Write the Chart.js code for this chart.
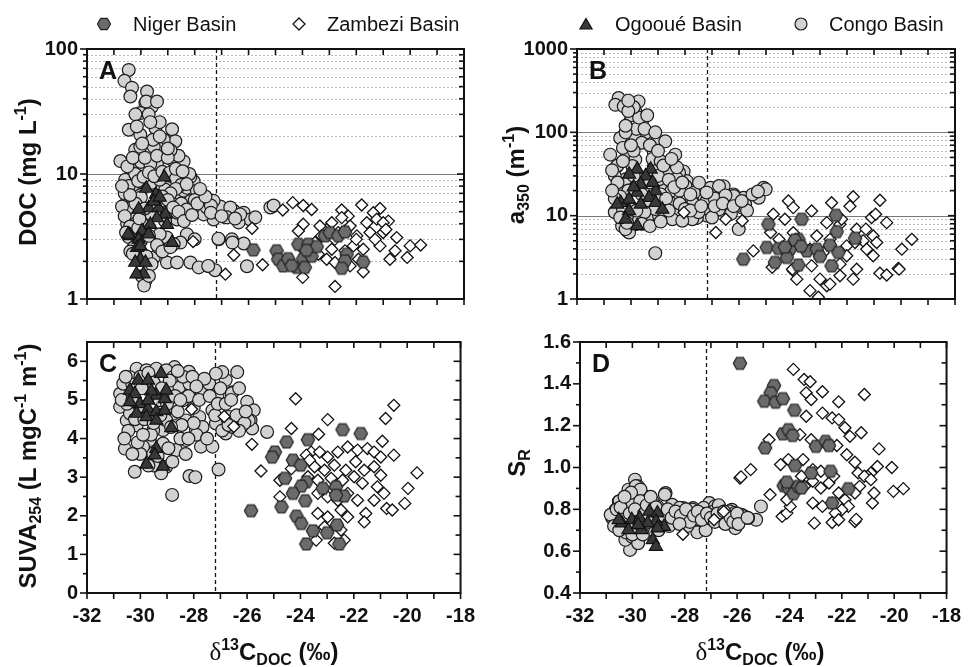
<!DOCTYPE html>
<html><head><meta charset="utf-8">
<script src="https://cdn.jsdelivr.net/npm/chart.js"></script>
<style>
html,body{margin:0;padding:0;background:#fff}
body{width:972px;height:667px;position:relative;overflow:hidden;font-family:"Liberation Sans",Arial,Helvetica,sans-serif;color:#111}
canvas{position:absolute}
.lg{position:absolute;font-size:20px;line-height:20px;white-space:nowrap}
.mk{position:absolute}
.yt,.xt{position:absolute;font-weight:bold;font-size:24px;line-height:24px;white-space:nowrap}
.yt{transform:translate(-50%,-50%) rotate(-90deg)}
.xt{transform:translate(-50%,-50%)}
sup,sub{font-size:16px;line-height:0;position:relative;vertical-align:baseline}
sup{top:-10px}
sub{top:5px}
.dl{font-family:"Liberation Serif","DejaVu Serif",serif;font-weight:normal;font-size:25px}
</style></head><body>
<canvas id="cA" width="486" height="320" style="left:0;top:0"></canvas>
<canvas id="cB" width="486" height="320" style="left:486px;top:0"></canvas>
<canvas id="cC" width="486" height="347" style="left:0;top:320px"></canvas>
<canvas id="cD" width="486" height="347" style="left:486px;top:320px"></canvas>

<svg class="mk" style="left:96px;top:16px" width="16" height="16"><polygon points="14.5,8 11.25,13.63 4.75,13.63 1.5,8 4.75,2.37 11.25,2.37" fill="#6b6b6b" stroke="#222" stroke-width="1.2"/></svg>
<div class="lg" style="left:133px;top:14px">Niger Basin</div>
<svg class="mk" style="left:291px;top:16px" width="16" height="16"><polygon points="8,2 14,8 8,14 2,8" fill="#fff" stroke="#111" stroke-width="1.3"/></svg>
<div class="lg" style="left:327px;top:14px">Zambezi Basin</div>
<svg class="mk" style="left:578px;top:16px" width="16" height="16"><polygon points="8,2.5 14.06,13 1.94,13" fill="#383838" stroke="#111" stroke-width="1.2"/></svg>
<div class="lg" style="left:615px;top:14px">Ogooué Basin</div>
<svg class="mk" style="left:793px;top:16px" width="16" height="16"><circle cx="8" cy="8" r="6" fill="#d2d2d2" stroke="#1c1c1c" stroke-width="1.2"/></svg>
<div class="lg" style="left:829px;top:14px">Congo Basin</div>

<div class="yt" style="left:28px;top:172px">DOC (mg L<sup>-1</sup>)</div>
<div class="yt" style="left:516px;top:175px">a<sub>350</sub> (m<sup>-1</sup>)</div>
<div class="yt" style="left:28px;top:466px">SUVA<sub>254</sub> (L mgC<sup>-1</sup> m<sup>-1</sup>)</div>
<div class="yt" style="left:517px;top:463px">S<sub>R</sub></div>
<div class="xt" style="left:274px;top:652px"><span class="dl">δ</span><sup>13</sup>C<sub>DOC</sub> (‰)</div>
<div class="xt" style="left:760px;top:652px"><span class="dl">δ</span><sup>13</sup>C<sub>DOC</sub> (‰)</div>

<script>
// ---------- tick values ----------
const xTicks = [-32,-30,-28,-26,-24,-22,-20,-18];
const docTicks = [1,10,100];
const a350Ticks = [1,10,100,1000];
const suvaTicks = [0,1,2,3,4,5,6];
const srTicks = [0.4,0.6,0.8,1.0,1.2,1.4,1.6];
const cutoffValue = -27.2;

// ---------- Panel A: DOC (mg/L) ----------
const congoDOC = [[-30.45,68],[-30.61,55.6],[-30.33,49],[-30.39,41.7],[-29.77,45.7],[-29.83,36.9],[-29.59,34.5],[-30.02,30.7],[-29.71,30],
[-30.45,22.6],[-30.02,20.6],[-29.46,23.3],[-28.84,22.8],[-28.72,18.3],[-29.15,18.8],[-29.71,15.2],[-30.21,15.6],[-29.15,14.3],[-28.41,12.6],
[-30.76,12.7],[-30.39,11.1],[-29.9,11.1],[-29.4,12.2],[-28.84,13],[-30.58,9.0],[-30.14,8.5],[-28.41,9.0],[-28.84,8.5],[-28.04,8.75],
[-29.03,7.75],[-28.66,7.0],[-28.41,7.35],[-28.16,6.08],[-27.67,6.08],[-27.85,5.38],[-27.05,5.5],[-26.55,5.08],[-26.18,4.9],[-25.94,4.33],
[-25.75,4.5],[-26.86,4.5],[-27.3,4.33],[-27.67,4.75],[-28.29,4.6],[-28.66,4.33],[-26.37,4.1],[-26.62,3.0],[-27.11,3.0],[-26.18,2.78],
[-28.29,3.3],[-28.53,2.83],[-30.45,3.13],[-30.27,2.58],[-29.03,1.96],[-28.66,1.96],[-28.16,1.96],[-27.85,1.79],[-27.48,1.83],[-27.24,1.7],
[-26.06,1.83],[-29.83,1.4],[-29.96,1.52],[-29.88,1.28],[-29.52,2.15],[-29.34,2.58],[-29.4,3.13],[-30.39,2.4],[-30.51,4.0],[-30.33,4.45],
[-30.51,6.1],[-30.33,7.1],[-30.02,6.8],[-29.65,8.2],[-28.78,9.7],[-28.29,7.75],[-27.92,7.35],[-28.16,9.5],[-27.55,5.4],[-27.3,6.1],
[-26.68,5.4],[-26.31,4.75],[-25.19,5.4],[-25.07,5.6],[-29.03,3.1],[-28.78,2.75],[-29.03,4.9],[-29.28,15.8],[-28.6,14.0],[-29.52,16.5],
[-30.02,16.5],[-30.27,8.2],[-30.21,10],[-29.55,18.8],[-29.8,38],[-29.4,38],[-30.2,30],[-29.3,26],[-28.9,15.5],[-30.3,6.2],[-30.0,6.5],
[-29.1,7.5],[-28.9,6.0],[-29.0,5.0],[-28.5,5.8],[-28.0,6.2],[-27.4,5.6],[-26.8,4.5],[-29.9,3.9],[-30.5,5.3],[-30.2,4.0],[-30.0,2.9],
[-30.3,2.3],[-29.8,2.2],[-29.6,1.9],[-29.3,3.3],[-29.1,4.2],[-29.6,8.5],[-29.3,9.0],[-30.45,8.0],[-30.0,12.5],[-29.65,12.0],[-28.2,10.0],
[-28.0,3.0],[-27.12,3.04],[-26.6,2.83],[-27.5,1.84],[-28.65,4.9],[-28.3,5.2],[-29.7,1.53],
[-30.6,7.0],[-30.7,5.5],[-30.6,4.6],[-30.4,3.8],[-30.55,3.4],[-30.25,3.3],[-30.1,3.7],[-30.2,5.8],[-30.4,6.8],[-30.1,8.8],[-29.9,9.5],
[-29.7,10.3],[-29.5,9.6],[-29.2,10.4],[-28.95,10.2],[-28.7,9.2],[-28.5,8.2],[-28.7,7.6],[-28.9,7.0],[-29.2,6.6],[-29.0,6.2],[-28.8,5.4],
[-28.6,5.0],[-28.4,4.2],[-28.1,4.7],[-27.9,5.8],[-27.6,6.6],[-27.8,7.6],[-27.4,4.9],[-27.0,4.6],[-26.5,4.4],[-29.7,3.2],[-29.4,2.7],
[-29.2,2.4],[-28.9,2.6],[-30.7,8.0],[-30.5,11.5],[-30.3,13.5],[-29.85,13.5],[-29.4,14],[-29.0,13.5],[-28.7,11],[-29.95,17.5],[-30.15,24],
[-29.65,26],[-29.3,20],[-29.0,16],[-28.45,10.5],[-28.3,8.3],[-30.05,4.4],[-29.6,4.7],[-29.85,5.3]];
const ogoDOC = [[-29.13,9.43],[-29.8,7.66],[-29.44,6.87],[-29.71,5.35],[-29.34,5.35],[-30.08,5.21],[-29.09,4.75],[-29.4,4.45],[-29.65,3.94],
[-29.03,3.94],[-29.96,3.5],[-30.39,3.2],[-30.08,3.0],[-29.71,3.3],[-28.84,2.83],[-30.14,2.58],[-30.02,2.08],[-30.21,1.96],[-29.83,1.96],
[-29.9,1.58],[-30.02,2.66],[-29.52,6.04],[-29.3,6.5],[-30.47,3.3],[-30.16,1.58]];
const zamDOC = [[-28.06,2.88],[-26.55,2.25],[-26.86,1.58],[-25.87,3.68],[-25.48,1.88],[-24.36,5.9],[-24.73,5.15],[-23.97,5.6],[-23.66,5.2],
[-23.97,3.96],[-24.15,3.5],[-22.54,5.15],[-21.8,5.65],[-21.12,5.3],[-20.81,4.2],[-22.3,4.6],[-21.37,4.9],[-22.91,4.08],[-20.5,3.1],[-20.0,2.66],
[-19.61,2.7],[-20.11,2.15],[-20.75,2.08],[-20.56,2.43],[-21.12,2.66],[-21.74,1.65],[-22.23,1.84],[-22.79,1.26],[-23.99,1.49],[-21.74,2.5],
[-21.98,3.2],[-21.49,3.4],[-21.0,3.4],[-21.61,4.08],[-22.23,3.84],[-22.67,3.4],[-23.1,3.6],[-23.35,3.84],[-23.1,2.08],[-22.79,1.96],
[-23.41,2.28],[-23.53,2.83],[-22.91,2.5],[-22.42,2.43],[-22.11,2.66],[-21.92,2.08],[-21.24,4.35],[-21.0,4.08],[-22.54,4.48],[-23.97,2.5],
[-23.29,3.2],[-23.8,2.2],[-22.0,3.0],[-21.3,3.0],[-22.8,3.0],[-20.9,3.6]];
const nigerDOC = [[-25.82,2.47],[-24.96,2.43],[-24.9,2.08],[-24.71,1.84],[-24.53,2.1],[-24.21,1.79],[-24.15,2.74],[-23.78,2.74],[-23.97,2.1],
[-23.91,1.79],[-23.66,2.2],[-23.47,2.63],[-23.16,3.2],[-22.98,3.4],[-22.67,3.2],[-22.42,3.44],[-22.36,2.28],[-22.42,2.02],[-22.54,1.76],
[-21.74,1.98],[-24.4,1.85],[-23.85,2.45]];

// ---------- Panel B: a350 (1/m) ----------
const congoA350 = [[-30.46,258],[-30.58,214],[-30.27,205],[-29.72,235],[-29.84,178],[-30.02,135],[-29.59,135],[-29.47,98],[-30.4,85.5],
[-29.84,85.5],[-29.04,78],[-28.73,78],[-30.77,54],[-30.15,54],[-29.16,59],[-28.36,54],[-28.48,39],[-29.84,47],[-30.52,39],[-28.05,34],
[-27.93,26],[-27.56,19.7],[-27.06,21.6],[-26.57,22.6],[-26.2,18],[-25.83,16.4],[-25.27,16.4],[-25.09,21.6],[-25.77,13.6],[-26.01,6.9],
[-26.38,14.8],[-27.06,16.4],[-27.74,15],[-27.62,13.1],[-27.19,10],[-27.56,9.4],[-27.93,9.4],[-28.42,11.8],[-28.67,14],[-29.04,15.2],
[-29.41,19.7],[-29.65,26],[-28.91,19.7],[-30.33,7.5],[-30.15,6.6],[-29.84,7.9],[-30.58,11.2],[-30.4,13.6],[-30.52,21.6],[-28.54,24],
[-29.1,3.55],[-26.81,14.8],[-27.3,17.3],[-30.07,6.28],[-30.2,6.9],[-27.98,22.7],[-27.67,18.9],[-27.48,24.9],[-28.22,10.9],[-27.73,9.06],
[-26.74,22.7],[-26.19,17.2],[-25.88,12.5],[-26.37,12.4],[-25.01,20.7],[-28.72,22.7],[-28.96,27.4],[-28.22,32.8],[-29.33,13.1],[-28.72,10.9],
[-29.33,9.9],[-28.96,9.9],[-28.47,9.06],[-28.1,8.7],[-27.11,11.9],[-26.74,11.9],[-30.32,9.9],[-29.95,11.9],[-30.2,27.4],[-29.95,39.4],
[-29.15,39.4],[-30.0,160],[-29.8,110],[-30.2,100],[-29.6,75],[-30.3,65],[-29.9,60],[-29.2,48],[-28.9,45],[-28.6,35],[-28.3,28],[-28.5,20],
[-28.9,18],[-29.0,30],[-30.5,40],[-30.1,20],[-30.4,17],[-30.6,11],[-29.7,9],[-27.7,14],[-27.2,15],[-26.9,16],[-26.5,17.5],[-26.0,13.5],
[-27.5,11],[-27.0,9.5],[-28.5,14],[-28.2,20],[-29.5,28],[-29.3,25],[-26.3,10.5],[-25.7,11.5],[-30.15,8.2],
[-30.6,30],[-30.5,25],[-30.3,45],[-30.0,70],[-30.2,120],[-29.7,150],[-29.9,200],[-30.1,180],[-29.5,110],[-29.3,70],[-29.0,60],[-28.8,40],
[-28.6,27],[-28.4,22],[-28.7,16],[-29.1,12],[-29.5,11],[-29.8,11.5],[-30.3,12],[-30.6,16],[-30.7,20],[-30.4,9.5],[-29.6,8.0],[-29.3,7.5],
[-28.9,8.5],[-28.6,11.5],[-28.2,14],[-28.0,12],[-27.8,11.5],[-27.4,13],[-27.2,19],[-26.9,13],[-26.6,14],[-26.2,13],[-25.9,15],[-25.5,18],
[-25.3,19.5],[-27.8,18],[-28.1,25],[-28.3,38],[-28.5,48],[-29.1,100],[-29.4,160],[-30.1,240],[-30.7,35],[-29.9,30],[-29.6,18]];
const ogoA350 = [[-29.77,36],[-29.27,36],[-30.07,31.3],[-29.46,29.9],[-29.64,23.8],[-29.09,19.8],[-29.77,19],[-29.33,16.5],[-30.38,14.3],
[-30.07,15.7],[-29.64,13.7],[-29.09,14.3],[-28.84,11.9],[-30.07,11.4],[-30.2,9.06],[-29.77,7.55],[-30.51,13.7],[-29.2,25],[-29.9,22]];
const zamA350 = [[-28.04,10.9],[-26.86,6.28],[-26.49,9.06],[-25.88,8.7],[-25.47,3.78],[-24.77,2.4],[-24.73,10.4],[-24.3,9.06],[-24.17,15.0],
[-23.99,12.5],[-23.31,11.4],[-22.57,14.3],[-21.89,13.0],[-21.77,16.9],[-20.78,15.3],[-21.09,9.5],[-20.53,8.25],[-19.6,5.2],[-19.97,3.96],
[-20.1,2.33],[-20.78,2.04],[-20.53,1.94],[-23.06,1.05],[-23.37,1.26],[-22.75,1.44],[-22.75,8.25],[-22.26,7.9],[-21.64,6.87],[-21.03,5.71],
[-21.4,4.98],[-20.9,4.76],[-23.12,5.71],[-22.63,5.2],[-22.01,4.34],[-21.7,4.76],[-23.99,6.23],[-23.37,3.96],[-22.88,3.6],[-23.31,2.5],
[-23.99,2.18],[-23.86,1.73],[-22.26,1.9],[-21.64,2.28],[-21.77,1.73],[-23.0,1.73],[-22.63,1.51],[-22.26,2.62],[-22.01,3.3],[-21.27,3.96],
[-21.03,3.3],[-24.52,5.2],[-24.83,6.28],[-22.2,9.06],[-21.3,6.9],[-20.94,10.4],[-20.07,2.28],[-24.02,2.28]];
const nigerA350 = [[-25.84,3.0],[-24.91,7.9],[-24.97,4.15],[-24.54,4.04],[-24.11,3.96],[-23.8,5.2],[-24.67,2.75],[-24.23,3.15],[-23.8,2.55],
[-23.68,9.06],[-23.93,5.1],[-23.49,3.78],[-23.12,3.96],[-23.0,3.24],[-22.63,4.42],[-22.57,2.5],[-22.41,10.1],[-22.38,6.43],[-21.7,5.35],
[-22.32,3.62],[-24.3,4.2],[-23.7,4.3]];

// ---------- Panel C: SUVA254 ----------
const congoSUVA = [[-30.58,3.74],[-30.21,3.14],[-28.81,2.54],[-28.16,3.03],[-27.94,3.0],[-27.07,3.2],[-28.72,5.85],[-26.37,5.72],[-26.8,5.52],
[-26.55,5.2],[-26.0,4.95],[-25.25,4.17],[-25.75,4.73],[-25.87,4.47],[-25.81,4.26],[-26.18,4.34],[-27.73,5.25],[-27.11,5.12],[-27.42,5.42],
[-26.93,5.72],[-27.17,5.68],[-28.41,4.99],[-27.92,4.22],[-27.73,3.79],[-27.3,3.79],[-26.8,4.13],[-28.29,3.96],[-30.14,5.81],[-29.77,5.77],
[-29.4,5.81],[-29.03,5.77],[-30.76,5.16],[-30.64,5.42],[-30.39,5.59],[-30.51,4.47],[-30.14,4.34],[-29.15,4.22],[-28.66,3.7],[-29.03,3.27],
[-29.22,3.1],[-29.65,3.96],[-29.52,3.61],[-29.9,3.79],[-28.78,4.64],[-28.29,4.47],[-27.79,4.56],[-27.3,4.73],[-26.68,4.56],[-26.31,4.56],
[-25.94,4.47],[-28.91,5.25],[-28.54,5.34],[-28.16,5.42],[-28.78,5.59],[-27.67,4.3],[-27.17,4.39],[-26.93,4.21],[-26.55,4.3],[-29.15,4.82],
[-29.28,4.99],[-30.76,4.82],[-30.39,4.65],[-30.02,4.82],[-29.03,4.47],[-29.52,4.21],[-29.15,3.87],[-30.3,5.4],[-30.0,5.6],[-29.7,5.7],
[-28.9,5.5],[-28.2,5.1],[-28.0,4.8],[-27.8,5.0],[-27.0,5.3],[-26.4,4.6],[-27.2,4.6],[-28.6,4.7],[-29.6,4.1],[-30.5,4.9],[-29.5,3.3],
[-28.8,3.4],[-30.0,3.6],[-28.5,4.0],[-27.9,4.1],[-26.1,4.4],[-28.18,5.73],[-26.57,5.17],
[-30.7,5.0],[-30.55,5.6],[-30.3,5.0],[-30.2,4.5],[-30.45,4.2],[-30.6,4.0],[-30.1,3.9],[-29.9,4.1],[-29.85,4.5],[-29.5,4.4],[-29.25,4.6],
[-29.0,4.9],[-28.7,5.1],[-28.4,5.6],[-28.6,5.75],[-28.05,5.6],[-27.6,5.55],[-27.9,5.35],[-27.4,5.1],[-27.1,4.9],[-26.8,4.9],[-26.6,5.0],
[-26.3,5.3],[-26.05,4.7],[-26.3,4.2],[-26.7,4.35],[-27.5,4.0],[-28.0,4.4],[-28.2,4.0],[-28.45,4.35],[-28.85,4.3],[-28.3,3.6],[-28.95,3.75],
[-29.7,3.3],[-29.35,3.55],[-30.3,3.6],[-29.95,5.3],[-29.5,5.45],[-29.2,5.3],[-28.5,5.0]];
const ogoSUVA = [[-30.39,5.25],[-30.08,5.51],[-29.71,5.51],[-29.22,5.68],[-30.02,4.9],[-29.71,4.77],[-29.4,5.12],[-29.09,5.03],[-30.14,4.65],
[-29.77,4.56],[-29.4,4.69],[-29.09,4.73],[-30.21,5.16],[-29.4,4.47],[-28.84,4.28],[-29.4,3.74],[-29.46,3.57],[-29.77,3.33],[-29.15,3.28],
[-29.59,5.23],[-29.03,5.25],[-30.39,4.95],[-29.71,4.99]];
const zamSUVA = [[-28.08,4.76],[-26.86,4.57],[-26.5,4.31],[-25.82,3.85],[-25.48,3.16],[-24.18,5.03],[-20.5,4.86],[-20.81,4.52],[-22.98,4.49],
[-24.34,4.26],[-23.32,4.11],[-20.93,3.93],[-20.5,3.57],[-19.63,3.11],[-19.97,2.71],[-20.09,2.32],[-20.77,2.19],[-20.56,2.15],[-21.55,2.06],
[-21.61,1.84],[-24.34,3.22],[-24.77,2.92],[-24.77,2.49],[-23.6,3.65],[-23.28,3.65],[-22.98,3.52],[-22.6,3.65],[-22.23,3.78],[-21.86,3.7],
[-21.49,3.74],[-21.24,3.65],[-20.99,3.52],[-23.47,3.27],[-23.1,3.18],[-22.73,3.31],[-22.3,3.18],[-21.93,3.4],[-21.61,3.18],[-21.24,3.27],
[-20.99,3.05],[-23.72,3.01],[-23.35,2.92],[-22.85,2.97],[-22.42,2.92],[-21.99,3.01],[-21.68,2.84],[-21.12,2.75],[-20.87,2.58],[-23.35,2.58],
[-22.98,2.49],[-22.6,2.4],[-22.23,2.58],[-21.86,2.4],[-21.24,2.4],[-23.35,2.06],[-22.98,1.97],[-22.48,2.15],[-22.23,1.97],[-23.1,1.71],
[-22.48,1.63],[-22.36,1.37],[-22.73,1.29],[-23.41,1.37],[-23.78,3.57],[-23.66,3.44]];
const nigerSUVA = [[-25.85,2.13],[-22.42,4.23],[-21.74,4.13],[-24.52,3.91],[-23.72,3.97],[-24.96,3.65],[-25.06,3.52],[-24.28,3.44],[-23.99,3.31],
[-24.58,2.97],[-23.78,2.88],[-23.97,2.77],[-24.28,2.58],[-23.82,2.39],[-23.16,2.71],[-22.67,2.75],[-22.36,2.51],[-22.67,2.53],[-24.71,2.23],
[-24.15,1.99],[-23.97,1.8],[-23.53,1.61],[-23.0,1.56],[-22.63,1.76],[-23.78,1.27],[-22.54,1.27]];

// ---------- Panel D: SR ----------
const congoSR = [[-30.77,0.758],[-30.52,0.838],[-30.15,0.894],[-29.9,0.942],[-29.78,0.91],[-29.53,0.862],[-29.65,0.83],[-29.22,0.838],
[-28.73,0.878],[-28.48,0.822],[-29.04,0.814],[-28.05,0.806],[-27.68,0.806],[-27.31,0.798],[-27.06,0.83],[-26.69,0.814],[-26.2,0.798],
[-25.83,0.774],[-25.27,0.75],[-25.09,0.814],[-26.07,0.71],[-30.09,0.606],[-30.27,0.654],[-30.4,0.702],[-30.02,0.67],[-28.3,0.766],
[-27.93,0.758],[-27.56,0.774],[-26.81,0.766],[-26.38,0.758],[-28.67,0.782],[-29.28,0.702],[-29.78,0.638],[-27.52,0.69],[-26.57,0.742],
[-25.58,0.758],[-30.64,0.798],[-30.83,0.774],[-30.49,0.839],[-29.87,0.911],[-29.69,0.895],[-29.38,0.815],[-30.31,0.783],[-29.07,0.791],
[-28.76,0.871],[-28.2,0.807],[-27.83,0.783],[-27.71,0.799],[-27.28,0.807],[-26.84,0.815],[-26.29,0.791],[-25.73,0.767],[-27.46,0.751],
[-28.08,0.735],[-28.57,0.751],[-26.35,0.751],[-26.1,0.783],[-28.82,0.735],[-29.56,0.719],[-29.2,0.751],[-30.6,0.80],[-30.2,0.75],
[-30.0,0.82],[-29.8,0.78],[-30.05,0.88],[-29.7,0.84],[-29.3,0.78],[-28.9,0.79],[-28.4,0.77],[-27.4,0.78],[-27.1,0.74],[-26.9,0.79],
[-26.6,0.76],[-25.9,0.75],[-27.9,0.72],[-28.6,0.72],[-29.4,0.74],[-30.25,0.69],[-27.2,0.70],[-26.7,0.82],
[-30.7,0.72],[-30.5,0.70],[-30.35,0.75],[-30.45,0.81],[-30.3,0.86],[-30.1,0.78],[-29.95,0.72],[-29.9,0.80],[-29.75,0.74],[-29.55,0.78],
[-29.45,0.82],[-29.3,0.86],[-29.1,0.81],[-28.95,0.75],[-28.8,0.77],[-28.65,0.80],[-28.5,0.76],[-28.35,0.79],[-28.15,0.77],[-27.95,0.80],
[-27.8,0.74],[-27.65,0.77],[-27.5,0.79],[-27.35,0.75],[-27.15,0.78],[-27.0,0.76],[-26.85,0.74],[-26.75,0.78],[-26.5,0.79],[-26.45,0.73],
[-26.25,0.76],[-26.15,0.74],[-26.0,0.78],[-25.95,0.73],[-25.6,0.76],[-28.2,0.73],[-29.0,0.70],[-30.0,0.68],[-29.6,0.68]];
const ogoSR = [[-30.4,0.734],[-30.02,0.75],[-29.72,0.758],[-29.35,0.79],[-29.04,0.782],[-28.79,0.718],[-29.1,0.742],[-29.41,0.734],
[-30.15,0.702],[-29.65,0.702],[-29.22,0.654],[-29.1,0.622],[-29.78,0.726],[-29.04,0.71],[-30.52,0.75]];
const zamSR = [[-28.07,0.681],[-26.88,0.75],[-26.51,0.79],[-25.89,0.95],[-25.48,0.99],[-25.85,0.955],[-24.74,0.87],[-24.78,1.133],
[-23.85,1.469],[-23.44,1.421],[-23.21,1.41],[-23.36,1.357],[-23.17,1.325],[-22.74,1.362],[-22.12,1.314],[-21.14,1.349],[-23.36,1.245],
[-22.74,1.26],[-22.37,1.237],[-22.12,1.229],[-21.88,1.19],[-21.69,1.149],[-21.26,1.166],[-23.6,1.157],[-23.17,1.133],[-22.19,1.105],
[-21.81,1.061],[-21.5,1.025],[-20.58,1.089],[-20.64,1.005],[-20.89,0.974],[-21.01,0.958],[-20.09,1.0],[-19.65,0.899],[-20.03,0.886],
[-20.83,0.83],[-21.5,0.742],[-21.45,0.752],[-23.05,0.734],[-22.37,0.737],[-24.28,0.766],[-24.1,0.782],[-24.34,1.014],[-24.04,1.038],
[-23.48,1.038],[-23.11,0.99],[-22.8,0.982],[-22.49,0.926],[-22.31,0.958],[-21.38,0.974],[-21.14,0.958],[-21.32,0.91],[-21.5,0.878],
[-23.11,0.934],[-22.8,0.902],[-23.11,0.83],[-22.74,0.814],[-22.37,0.83],[-22.12,0.878],[-21.88,0.846],[-21.75,0.814],[-22.0,0.798],
[-22.25,0.782],[-22.12,0.75],[-20.89,0.942],[-20.77,0.878],[-23.42,0.91],[-23.54,0.958],[-23.97,0.814],[-24.1,0.846]];
const nigerSR = [[-25.89,1.498],[-24.59,1.392],[-24.72,1.357],[-24.96,1.317],[-24.53,1.312],[-24.25,1.329],[-23.81,1.274],[-24.25,1.161],
[-24.04,1.181],[-23.88,1.153],[-24.93,1.094],[-22.99,1.101],[-22.62,1.125],[-22.49,1.105],[-23.79,1.009],[-23.17,0.974],[-22.43,0.982],
[-24.22,0.913],[-24.04,0.902],[-23.85,0.875],[-23.67,0.91],[-23.54,0.902],[-24.1,0.93],[-21.75,0.899],[-22.37,0.83]];

// ---------- styles ----------
const FONT = '"Liberation Sans", Arial, Helvetica, sans-serif';
function hexImage(r, fill, stroke){
  const s = Math.ceil(2*r+4);
  const c = document.createElement('canvas'); c.width = s; c.height = s;
  const g = c.getContext('2d');
  g.beginPath();
  for (let i=0;i<6;i++){ const a = Math.PI/3*i; const px = s/2 + r*Math.cos(a), py = s/2 + r*Math.sin(a); if(i) g.lineTo(px,py); else g.moveTo(px,py); }
  g.closePath(); g.fillStyle = fill; g.fill(); g.lineWidth = 1.2; g.strokeStyle = stroke; g.stroke();
  return c;
}
const HEX = hexImage(6.7, '#6b6b6b', '#222');
const ST = {
  congo: {pointStyle:'circle', pointRadius:6.4, backgroundColor:'#d2d2d2', borderColor:'#1c1c1c', pointBorderWidth:1.2},
  ogo:   {pointStyle:'triangle', pointRadius:7.6, backgroundColor:'#383838', borderColor:'#111', pointBorderWidth:1.2},
  zam:   {pointStyle:'rectRot', pointRadius:6, backgroundColor:'#ffffff', borderColor:'#111', pointBorderWidth:1.3},
  niger: {pointStyle:HEX, pointRadius:6.5, backgroundColor:'#6b6b6b', borderColor:'#222', pointBorderWidth:1.2}
};
function ds(label, pts, st){
  return Object.assign({label, data: pts.map(p=>({x:p[0], y:p[1]})), showLine:false, pointHitRadius:0, pointHoverRadius:0}, st);
}
function range(a,b,s){ const out=[]; for(let v=a; v<=b+1e-9; v+=s) out.push(Math.round(v*1000)/1000); return out; }
const logMinor1 = [2,3,4,5,6,7,8,9,20,30,40,50,60,70,80,90];
const logMinor2 = logMinor1.concat([200,300,400,500,600,700,800,900]);
const xMinor = range(-32,-18,1);

function makeFrame(o){
  const line = (ctx,x1,y1,x2,y2)=>{ ctx.beginPath(); ctx.moveTo(x1,y1); ctx.lineTo(x2,y2); ctx.stroke(); };
  return {
    id: 'frame'+o.letter,
    beforeDatasetsDraw(chart){
      const {ctx, chartArea:a, scales:{x,y}} = chart;
      ctx.save();
      ctx.lineWidth = 1;
      ctx.setLineDash([2,2]); ctx.strokeStyle = '#b8b8b8';
      for (const v of o.gridMinor){ const py = Math.round(y.getPixelForValue(v))+0.5; line(ctx,a.left,py,a.right,py); }
      ctx.setLineDash([]); ctx.strokeStyle = '#7a7a7a';
      for (const v of o.gridMajor){ const py = Math.round(y.getPixelForValue(v))+0.5; line(ctx,a.left,py,a.right,py); }
      const cx = Math.round(x.getPixelForValue(cutoffValue))+0.5;
      ctx.setLineDash([4,3]); ctx.strokeStyle = '#111'; ctx.lineWidth = 1.3;
      line(ctx,cx,a.top,cx,a.bottom);
      ctx.restore();
    },
    afterDraw(chart){
      const {ctx, chartArea:a, scales:{x,y}} = chart;
      ctx.save(); ctx.strokeStyle = '#111'; ctx.lineWidth = 1.6; ctx.setLineDash([]);
      for (const v of xMinor){ const px = x.getPixelForValue(v); line(ctx,px,a.bottom,px,a.bottom+6); line(ctx,px,a.top,px,a.top+6); }
      for (const v of o.yMajor){ const py = y.getPixelForValue(v); line(ctx,a.left-7,py,a.left,py); line(ctx,a.right,py,a.right-7,py); }
      for (const v of o.yMinor){ const py = y.getPixelForValue(v); line(ctx,a.left-4,py,a.left,py); line(ctx,a.right,py,a.right-5,py); }
      ctx.lineWidth = 2;
      ctx.strokeRect(a.left, a.top, a.right-a.left, a.bottom-a.top);
      ctx.fillStyle = '#111'; ctx.font = 'bold 25px '+FONT; ctx.textBaseline = 'alphabetic'; ctx.textAlign = 'left';
      ctx.fillText(o.letter, a.left+12, a.top+30);
      ctx.restore();
    }
  };
}

function panel(id, o){
  const tickFont = {family:FONT, size:20, weight:'bold'};
  return new Chart(document.getElementById(id), {
    type:'scatter',
    data:{datasets:[
      ds('Ogooué Basin', o.ogo, ST.ogo),
      ds('Niger Basin', o.niger, ST.niger),
      ds('Zambezi Basin', o.zam, ST.zam),
      ds('Congo Basin', o.congo, ST.congo)
    ]},
    options:{
      responsive:false, animation:false, events:[],
      layout:{padding:o.pad},
      plugins:{legend:{display:false}, tooltip:{enabled:false}},
      scales:{
        x:{type:'linear', min:-32, max:-18,
           grid:{display:false, drawTicks:false}, border:{display:false},
           afterFit:(s)=>{ s.height = o.xh; },
           afterBuildTicks:(s)=>{ s.ticks = xTicks.map(v=>({value:v})); },
           ticks:{display:o.xLabels, padding:11, font:tickFont, color:'#111', maxRotation:0, minRotation:0, autoSkip:false, callback:(v)=>String(v)}},
        y:{type:o.ytype, min:o.ymin, max:o.ymax,
           grid:{display:false, drawTicks:false}, border:{display:false},
           afterFit:(s)=>{ s.width = o.yw; },
           afterBuildTicks:(s)=>{ s.ticks = o.yTicks.map(v=>({value:v})); },
           ticks:{padding:9, font:tickFont, color:'#111', autoSkip:false, callback:o.yfmt}}
      }
    },
    plugins:[makeFrame(o)]
  });
}

panel('cA', {letter:'A', congo:congoDOC, ogo:ogoDOC, zam:zamDOC, niger:nigerDOC,
  ytype:'logarithmic', ymin:1, ymax:100, yTicks:docTicks, yfmt:(v)=>String(v),
  pad:{left:0, top:49, right:22, bottom:0}, yw:87, xh:20, xLabels:false,
  gridMinor:logMinor1.filter(v=>v<100), gridMajor:[10], yMajor:docTicks, yMinor:logMinor1.filter(v=>v<100)});
panel('cB', {letter:'B', congo:congoA350, ogo:ogoA350, zam:zamA350, niger:nigerA350,
  ytype:'logarithmic', ymin:1, ymax:1000, yTicks:a350Ticks, yfmt:(v)=>String(v),
  pad:{left:0, top:49, right:17, bottom:0}, yw:91, xh:20, xLabels:false,
  gridMinor:logMinor2, gridMajor:[10,100], yMajor:a350Ticks, yMinor:logMinor2});
panel('cC', {letter:'C', congo:congoSUVA, ogo:ogoSUVA, zam:zamSUVA, niger:nigerSUVA,
  ytype:'linear', ymin:0, ymax:6.5, yTicks:suvaTicks, yfmt:(v)=>String(v),
  pad:{left:0, top:22, right:22, bottom:0}, yw:87, xh:74, xLabels:true,
  gridMinor:[], gridMajor:[], yMajor:suvaTicks, yMinor:range(0.5,5.5,1)});
panel('cD', {letter:'D', congo:congoSR, ogo:ogoSR, zam:zamSR, niger:nigerSR,
  ytype:'linear', ymin:0.4, ymax:1.6, yTicks:srTicks, yfmt:(v)=>Number(v).toFixed(1),
  pad:{left:0, top:22, right:14, bottom:0}, yw:94, xh:74, xLabels:true,
  gridMinor:[], gridMajor:[], yMajor:srTicks, yMinor:range(0.5,1.5,0.2)});
</script>
</body></html>
